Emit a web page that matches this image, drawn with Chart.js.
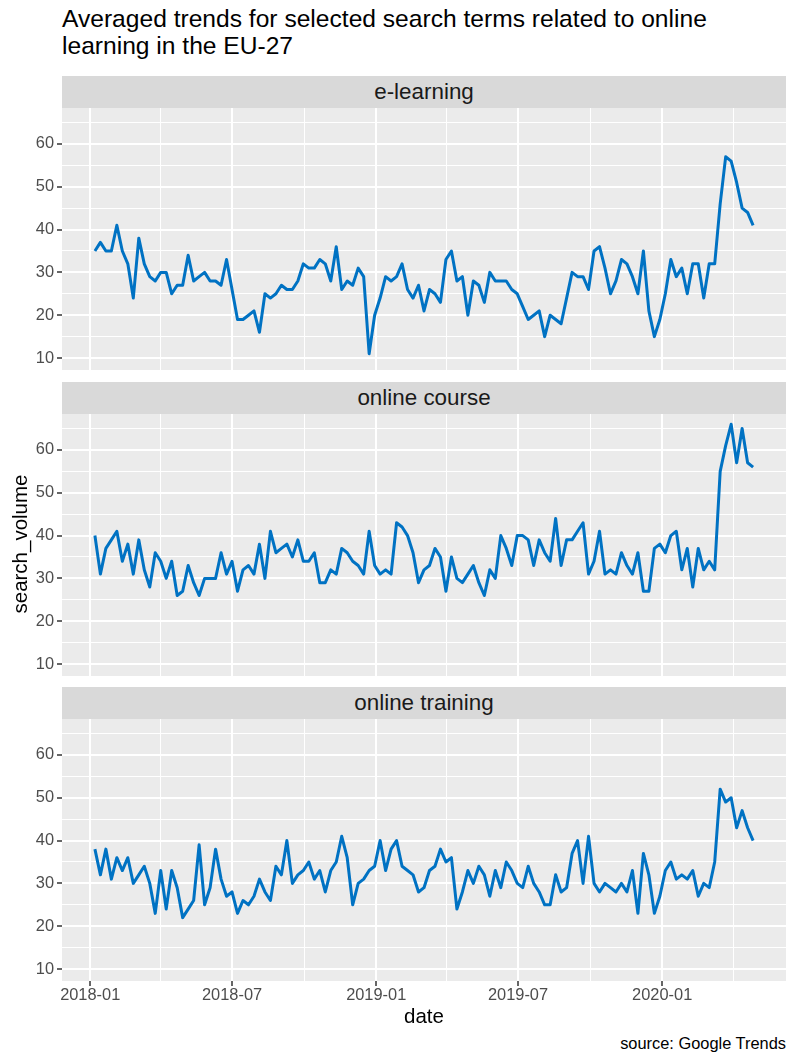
<!DOCTYPE html>
<html lang="en">
<head>
<meta charset="UTF-8">
<title>Online learning search trends</title>
<script src="https://cdn.jsdelivr.net/npm/chart.js@4.4.1/dist/chart.umd.min.js"></script>
<style>
  body { margin: 0; background: #fff; font-family: "Liberation Sans", Arial, sans-serif; }
  #page { position: relative; width: 797px; height: 1063px; overflow: hidden; }
  .title { position: absolute; left: 62px; top: 5px; font-size: 24.6px; line-height: 27px; color: #000; }
  .strip { position: absolute; left: 62px; width: 724px; height: 32px; background: #D9D9D9;
           color: #1A1A1A; font-size: 22.4px; line-height: 32px; text-align: center; }
  canvas { position: absolute; left: 0; }
  .ytitle { position: absolute; left: -180px; top: 532px; width: 400px; text-align: center;
            font-size: 20.5px; line-height: 24px; transform: rotate(-90deg); }
  .xtitle { position: absolute; left: 62px; width: 724px; top: 1004px; text-align: center;
            font-size: 20.5px; line-height: 24px; }
  .caption { position: absolute; right: 11px; top: 1033px; font-size: 16.4px; line-height: 20px; }
</style>
</head>
<body>
<div id="page">
  <div class="title">Averaged trends for selected search terms related to online<br>learning in the EU-27</div>

  <div class="strip" style="top:76px">e-learning</div>
  <canvas id="c1" width="797" height="262" style="top:108px"></canvas>

  <div class="strip" style="top:382px">online course</div>
  <canvas id="c2" width="797" height="262" style="top:414px"></canvas>

  <div class="strip" style="top:687px">online training</div>
  <canvas id="c3" width="797" height="298" style="top:719px"></canvas>

  <div class="ytitle">search_volume</div>
  <div class="xtitle">date</div>
  <div class="caption">source: Google Trends</div>
</div>

<script>
// weekly Google Trends values, first week 2018-01-07
const firstWeek = '2018-01-07';

const eLearning = [35,37,35,35,41,35,32,24,38,32,29,28,30,30,25,27,27,34,28,29,
  30,28,28,27,33,26,19,19,20,21,16,25,24,25,27,26,26,28,32,31,
  31,33,32,28,36,26,28,27,31,29,11,20,24,29,28,29,32,26,24,27,
  21,26,25,23,33,35,28,29,20,28,27,23,30,28,28,28,26,25,22,19,
  20,21,15,20,19,18,24,30,29,29,26,35,36,31,25,28,33,32,29,25,
  35,21,15,19,25,33,29,31,25,32,32,24,32,32,46,57,56,51,45,44,41];

const onlineCourse = [40,31,37,39,41,34,38,31,39,32,28,36,34,30,34,26,27,33,29,26,
  30,30,30,36,31,34,27,32,33,31,38,30,41,36,37,38,35,39,34,34,
  36,29,29,32,31,37,36,34,33,31,41,33,31,32,31,43,42,40,36,29,
  32,33,37,35,27,35,30,29,31,33,29,26,32,30,40,37,33,40,40,39,
  33,39,36,34,44,33,39,39,41,43,31,34,41,31,32,31,36,33,31,36,
  27,27,37,38,36,40,41,32,37,28,37,32,34,32,55,61,66,57,65,57,56];

const onlineTraining = [38,32,38,31,36,33,36,30,32,34,30,23,33,24,33,29,22,24,26,39,
  25,29,38,31,27,28,23,26,25,27,31,28,26,34,32,40,30,32,33,35,
  31,33,28,33,35,41,36,25,30,31,33,34,40,33,38,40,34,33,32,28,
  29,33,34,38,35,36,24,28,33,30,34,32,27,33,29,35,33,30,29,34,
  30,28,25,25,32,28,29,37,40,30,41,30,28,30,29,28,30,28,33,23,
  37,32,23,27,33,35,31,32,31,33,27,30,29,35,52,49,50,43,47,43,40];

const xBreaks = ['2018-01-01', '2018-07-01', '2019-01-01', '2019-07-01', '2020-01-01'];
const xMinorBreaks = ['2018-04-01', '2018-10-01', '2019-04-01', '2019-10-01', '2020-04-01'];
const yBreaks = [10, 20, 30, 40, 50, 60];
const yMinorBreaks = [15, 25, 35, 45, 55, 65];
const yMin = 7.2, yMax = 68.4;

const lineColor = '#0072C3';
Chart.defaults.font.family = '"Liberation Sans", Arial, sans-serif';

// days since 2018-01-01
function dayOf(s) {
  const p = s.split('-').map(Number);
  return (Date.UTC(p[0], p[1] - 1, p[2]) - Date.UTC(2018, 0, 1)) / 86400000;
}

const startDay = dayOf(firstWeek);
const weekDays = eLearning.map((v, i) => startDay + 7 * i);
const span = weekDays[weekDays.length - 1] - weekDays[0];
const xMin = weekDays[0] - 0.05 * span;
const xMax = weekDays[weekDays.length - 1] + 0.05 * span;

const xMajor = xBreaks.map(dayOf);
const xTicks = xMajor.concat(xMinorBreaks.map(dayOf)).sort((a, b) => a - b);
const yTicks = yBreaks.concat(yMinorBreaks).sort((a, b) => a - b);

const panelBg = {
  id: 'panelBg',
  beforeDraw(chart) {
    const a = chart.chartArea;
    chart.ctx.save();
    chart.ctx.fillStyle = '#EBEBEB';
    chart.ctx.fillRect(a.left, a.top, a.right - a.left, a.bottom - a.top);
    chart.ctx.restore();
  }
};

function makePanel(id, values, showX) {
  const pts = values.map((v, i) => ({ x: weekDays[i], y: v }));
  return new Chart(document.getElementById(id), {
    type: 'line',
    data: {
      datasets: [{
        data: pts,
        borderColor: lineColor,
        borderWidth: 3,
        borderJoinStyle: 'round',
        borderCapStyle: 'butt',
        pointRadius: 0,
        tension: 0,
        fill: false
      }]
    },
    options: {
      responsive: false,
      animation: false,
      layout: { padding: { left: 0, right: 11, top: 0, bottom: 0 } },
      plugins: { legend: { display: false }, tooltip: { enabled: false } },
      scales: {
        x: {
          type: 'linear',
          min: xMin,
          max: xMax,
          afterBuildTicks: s => { s.ticks = xTicks.map(v => ({ value: v })); },
          afterFit: s => { s.height = showX ? 36 : 0; s.paddingLeft = 0; s.paddingRight = 0; },
          border: { display: false },
          grid: {
            color: '#FFFFFF',
            lineWidth: c => xMajor.includes(c.tick.value) ? 2 : 1,
            drawTicks: showX,
            tickLength: 5,
            tickWidth: 1.5,
            tickColor: c => xMajor.includes(c.tick.value) ? '#333333' : 'rgba(0,0,0,0)'
          },
          ticks: {
            display: showX,
            autoSkip: false,
            maxRotation: 0,
            padding: 0,
            color: '#4D4D4D',
            font: { size: 16.4 },
            callback: v => {
              const k = xMajor.indexOf(v);
              return k >= 0 ? xBreaks[k].slice(0, 7) : '';
            }
          }
        },
        y: {
          min: yMin,
          max: yMax,
          afterBuildTicks: s => { s.ticks = yTicks.map(v => ({ value: v })); },
          afterFit: s => { s.width = 62; s.paddingTop = 0; s.paddingBottom = 0; },
          border: { display: false },
          grid: {
            color: '#FFFFFF',
            lineWidth: c => yBreaks.includes(c.tick.value) ? 2 : 1,
            tickLength: 5,
            tickWidth: 1.5,
            tickColor: c => yBreaks.includes(c.tick.value) ? '#333333' : 'rgba(0,0,0,0)'
          },
          ticks: {
            autoSkip: false,
            padding: 3,
            color: '#4D4D4D',
            font: { size: 16.4 },
            callback: v => yBreaks.includes(v) ? String(v) : ''
          }
        }
      }
    },
    plugins: [panelBg]
  });
}

makePanel('c1', eLearning, false);
makePanel('c2', onlineCourse, false);
makePanel('c3', onlineTraining, true);
</script>
</body>
</html>
